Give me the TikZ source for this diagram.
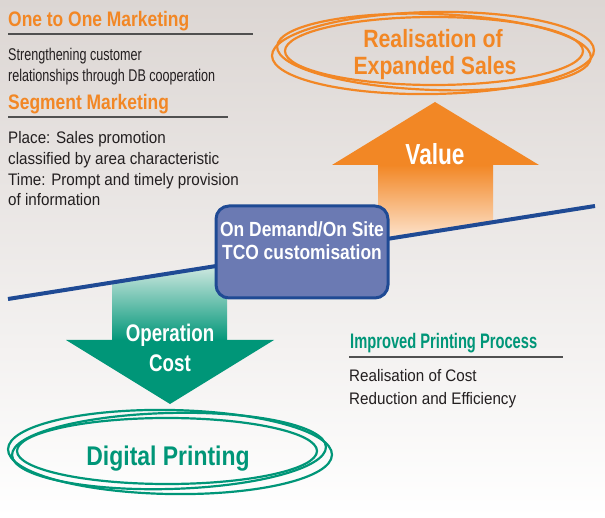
\documentclass[tikz,border=0pt]{standalone}
\usepackage{fontspec}
\setmainfont{Liberation Sans}[FakeStretch=0.85]
\newfontfamily\narrowf{Liberation Sans}[FakeStretch=0.78]
\newfontfamily\bodyf{Liberation Sans}[FakeStretch=0.74]
\newfontfamily\bodyw{Liberation Sans}[FakeStretch=0.91]
\newfontfamily\headf{Liberation Sans}[FakeStretch=0.83]
\newfontfamily\gheadf{Liberation Sans}[FakeStretch=0.70]
\definecolor{bgtop}{RGB}{220,214,211}
\definecolor{orangec}{RGB}{242,135,37}
\definecolor{orangepale}{RGB}{253,230,210}
\definecolor{greenc}{RGB}{0,150,120}
\definecolor{greenpale}{RGB}{212,234,227}
\definecolor{boxfill}{RGB}{107,122,179}
\definecolor{boxline}{RGB}{31,74,148}
\definecolor{txt}{RGB}{35,31,32}
\definecolor{rulec}{RGB}{80,80,80}
\tikzset{
  ohead/.style={anchor=base west, text=orangec, font=\headf\bfseries\fontsize{21}{24}\selectfont, inner sep=0},
  ghead/.style={anchor=base west, text=greenc, font=\gheadf\bfseries\fontsize{21}{24}\selectfont, inner sep=0},
  body/.style={anchor=base west, text=txt, font=\bodyf\fontsize{17}{20}\selectfont, inner sep=0},
  bodywide/.style={anchor=base west, text=txt, font=\bodyw\fontsize{16.7}{20}\selectfont, inner sep=0},
  hrule/.style={draw=rulec, line width=1.4pt},
  oring/.style={draw=orangec, line width=2.2pt},
  gring/.style={draw=greenc, line width=2.2pt},
  wbig/.style={anchor=base, text=white, inner sep=0},
}
\begin{document}
\begin{tikzpicture}[x=1pt,y=-1pt]
\shade[top color=bgtop, bottom color=white] (0,0) rectangle (605,518);
\useasboundingbox (0,0) rectangle (605,518);

% left texts
\node[ohead] (h1) at (8,27) {One to One Marketing};
\draw[hrule] (8,34) -- (253,34);
\node[body] (b1) at (8,61) {Strengthening customer};
\node[body] (b2) at (8,82) {relationships through DB cooperation};
\node[ohead] (h2) at (8,110) {Segment Marketing};
\draw[hrule] (8,117) -- (228,117);
\node[bodywide] (b3) at (8,144) {Place: Sales promotion};
\node[bodywide] (b4) at (8,165) {classified by area characteristic};
\node[bodywide] (b5) at (8,186) {Time: Prompt and timely provision};
\node[bodywide] (b6) at (8,206) {of information};

% orange rings
\draw[oring] (433,53) ellipse [x radius=161, y radius=41, rotate=1];
\draw[oring] (434,52) ellipse [x radius=157, y radius=38, rotate=-2];
\draw[oring] (434,51) ellipse [x radius=149, y radius=34];
\node[anchor=base, text=orangec, font=\bfseries\fontsize{25}{28}\selectfont, inner sep=0] (r1) at (433,48) {Realisation of};
\node[anchor=base, text=orangec, font=\bfseries\fontsize{25}{28}\selectfont, inner sep=0] (r2) at (435,75) {Expanded Sales};

% orange arrow
\shade[top color=orangec, bottom color=orangepale] (378,165) -- (493,165) -- (493,222.2) -- (378,240.4) -- cycle;
\fill[orangec] (332,165) -- (435,102) -- (539,165) -- cycle;
\node[wbig, font=\narrowf\bfseries\fontsize{29}{32}\selectfont] (val) at (435,165) {Value};

% green arrow
\shade[top color=greenpale, bottom color=greenc] (112,282.5) -- (227,264.3) -- (227,341) -- (112,341) -- cycle;
\fill[greenc] (66,340) -- (274,340) -- (170,404) -- cycle;
\node[wbig, font=\narrowf\bfseries\fontsize{24}{28}\selectfont] (op1) at (170,342) {Operation};
\node[wbig, font=\narrowf\bfseries\fontsize{24}{28}\selectfont] (op2) at (170,372) {Cost};

% blue line
\coordinate (l1) at (8,299);
\coordinate (l2) at (595,206);
\draw[boxline, line width=4pt] (l1) -- (l2);

% box
\draw[fill=boxfill, draw=boxline, line width=3pt, rounded corners=13pt] (216,206) rectangle (388,298);
\node[wbig, font=\bfseries\fontsize{20.5}{24}\selectfont] (bx1) at (302,237) {On Demand/On Site};
\node[wbig, font=\bfseries\fontsize{20.5}{24}\selectfont] (bx2) at (302,260) {TCO customisation};

% right lower texts
\node[ghead] (h3) at (350,349) {Improved Printing Process};
\draw[hrule] (349,357) -- (563,357);
\node[bodywide] (b7) at (349,382) {Realisation of Cost};
\node[bodywide] (b8) at (349,405) {Reduction and Efficiency};

% green rings
\draw[gring] (170,452) ellipse [x radius=162, y radius=42, rotate=-1];
\draw[gring] (169,451) ellipse [x radius=157, y radius=38, rotate=1.5];
\draw[gring] (167,451) ellipse [x radius=150, y radius=33];
\node[anchor=base, text=greenc, font=\bfseries\fontsize{27}{30}\selectfont, inner sep=0] (dp) at (168,465) {Digital Printing};
\end{tikzpicture}
\end{document}
